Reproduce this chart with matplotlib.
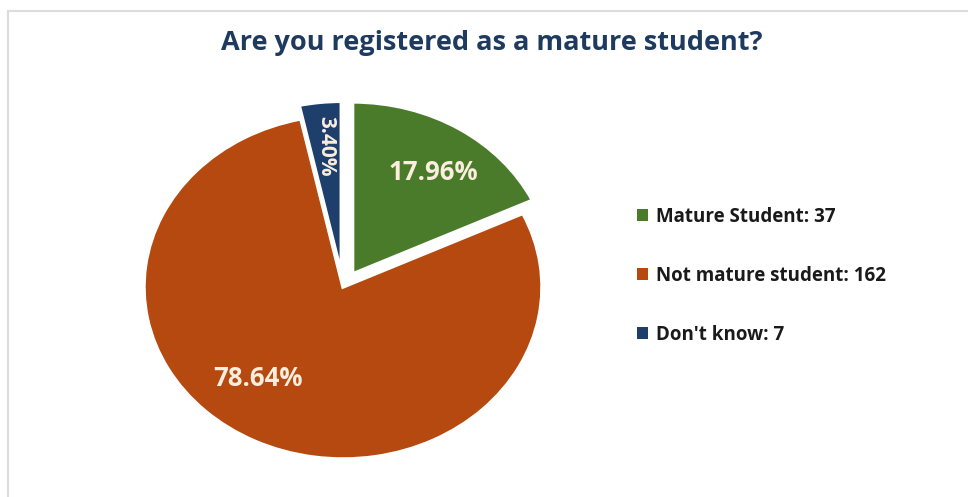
import matplotlib
matplotlib.use("Agg")
import matplotlib.pyplot as plt
from matplotlib.lines import Line2D
from matplotlib.patches import Patch

categories = ["Mature Student", "Not mature student", "Don't know"]
counts = [37, 162, 7]
pct_labels = ["17.96%", "78.64%", "3.40%"]
colors = ["#4a7b2b", "#b5490f", "#1e3f6c"]
explode = [0.09, 0.0, 0.08]

W, H = 968, 497
cx, cy = 343, 287
rx, ry = 199, 172

fig = plt.figure(figsize=(W / 100, H / 100), dpi=100)
ax = fig.add_axes([0, 0, 1, 1])

wedges, _ = ax.pie(counts, colors=colors, startangle=90, counterclock=False,
                   explode=explode, radius=1.0,
                   wedgeprops=dict(edgecolor="white", linewidth=2.5))
ax.set_aspect("auto")
ax.set_xlim(-cx / rx, (W - cx) / rx)
ax.set_ylim(-(H - cy) / ry, cy / ry)
ax.axis("off")

def px(x, y):
    return ((x - cx) / rx, (cy - y) / ry)

txt_color = "#fbeede"
ax.text(*px(433, 173), pct_labels[0], ha="center", va="center", fontsize=18.5,
        fontweight="bold", color=txt_color, family="Open Sans")
ax.text(*px(258, 378), pct_labels[1], ha="center", va="center", fontsize=18.5,
        fontweight="bold", color=txt_color, family="Open Sans")
ax.text(*px(326, 146), pct_labels[2], ha="center", va="center", fontsize=15,
        fontweight="bold", color=txt_color, family="Open Sans", rotation=-90)

fig.text(492 / W, 1 - 43 / H, "Are you registered as a mature student?",
         ha="center", va="center", fontsize=19.5, fontweight="bold",
         color="#1f3a5f", family="Open Sans")

handles = [Patch(facecolor=c, edgecolor="none") for c in colors]
labels = [f"{c}: {n}" for c, n in zip(categories, counts)]
leg = fig.legend(handles, labels, loc="upper left",
                 bbox_to_anchor=(620 / W, 1 - 190 / H), frameon=False,
                 prop=dict(family="Open Sans", weight="bold", size=13.5),
                 handlelength=0.6, handleheight=0.6, handletextpad=0.4,
                 labelspacing=2.08, labelcolor="#1a1a1a")

fig.add_artist(Line2D([8 / W, 1], [1 - 11 / H, 1 - 11 / H], color="#dcdcdc",
                      lw=1.5, transform=fig.transFigure))
fig.add_artist(Line2D([8 / W, 8 / W], [0, 1 - 11 / H], color="#dcdcdc",
                      lw=1.5, transform=fig.transFigure))

fig.savefig("out.png", dpi=100, facecolor="white")
